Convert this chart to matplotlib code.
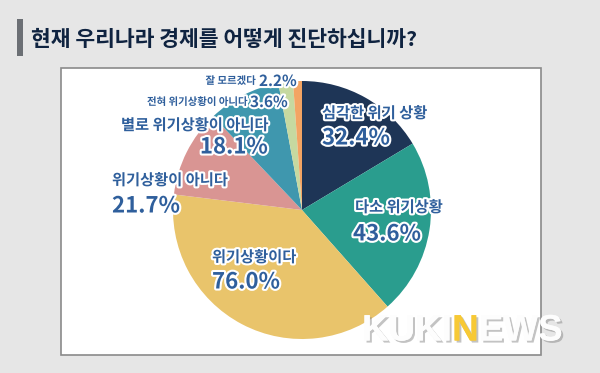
import matplotlib.pyplot as plt
import matplotlib.patheffects as pe
from matplotlib.patches import Rectangle

plt.rcParams['font.family'] = ['Noto Sans CJK KR', 'DejaVu Sans']

title = "현재 우리나라 경제를 어떻게 진단하십니까?"
# slice order clockwise from 12 o'clock
labels = ["심각한 위기 상황", "다소 위기상황", "위기상황이다", "위기상황이 아니다",
          "별로 위기상황이 아니다", "전혀 위기상황이 아니다", "잘 모르겠다"]
values = [32.4, 43.6, 76.0, 21.7, 18.1, 3.6, 2.2]
colors = ["#1e3556", "#2a9d8e", "#e9c46b", "#d99593", "#3f97ae", "#c6d9a0", "#f3a463"]

W, H = 600, 373
fig = plt.figure(figsize=(6, 3.73), dpi=100)
fig.patch.set_facecolor("#e6e6e6")

def px(x, y):
    return x / W, 1 - y / H

# title bar + title
fig.patches.append(Rectangle(px(17, 56), 6 / W, 37 / H, transform=fig.transFigure,
                             facecolor="#6b6f74", edgecolor="none", zorder=-2))
fig.text(*px(31, 39), title, fontsize=15.5, fontweight="bold", color="#0f2340",
         ha="left", va="center")

# white panel
fig.patches.append(Rectangle(px(60.5, 354.5), 480 / W, 287 / H, transform=fig.transFigure,
                             facecolor="white", edgecolor="#8a8a8a", linewidth=1.2, zorder=-2))

# pie
cx, cy, r = 302, 210, 129
ax = fig.add_axes([(cx - r) / W, (H - cy - r) / H, 2 * r / W, 2 * r / H])
ax.pie(values, colors=colors, startangle=90, counterclock=False, radius=1,
       wedgeprops=dict(linewidth=0))
ax.set_xlim(-1, 1)
ax.set_ylim(-1, 1)
ax.axis("off")

stroke = [pe.withStroke(linewidth=3, foreground="white")]
tc = "#2f5f9c"

def lab(x, y, s, size, ha="left"):
    fig.text(*px(x, y), s, fontsize=size, fontweight="bold", color=tc,
             ha=ha, va="center", path_effects=stroke)

pct = ["%.1f%%" % v for v in values]

lab(322, 113, labels[0], 11)
lab(322, 138, pct[0], 16)
lab(355, 207, labels[1], 11)
lab(353, 234, pct[1], 16)
lab(212, 257, labels[2], 11)
lab(212, 282, pct[2], 16)
lab(112, 180, labels[3], 11)
lab(112, 206, pct[3], 16)
lab(268, 125, labels[4], 11, ha="right")
lab(268, 147, pct[4], 16, ha="right")
lab(248, 102, labels[5], 7.5, ha="right")
lab(250, 102, pct[5], 11)
lab(256, 81, labels[6], 7.5, ha="right")
lab(259, 81, pct[6], 11)

# watermark, pieces placed one after another
shadow = [pe.withSimplePatchShadow(offset=(1.5, -1.5), shadow_rgbFace="#888888", alpha=0.5),
          pe.Normal()]
wm = dict(fontsize=26.5, fontweight="bold", family="Liberation Sans", va="center",
          ha="left", path_effects=shadow)
renderer = fig.canvas.get_renderer()
x0 = 362
for part, col in [("KUKI", "#fdfdfd"), ("N", "#f7c935"), ("EWS", "#fdfdfd")]:
    t = fig.text(*px(x0, 331), part, color=col, **wm)
    bb = t.get_window_extent(renderer=renderer)
    x0 += bb.width

fig.savefig("out.png", dpi=100, facecolor=fig.get_facecolor())
